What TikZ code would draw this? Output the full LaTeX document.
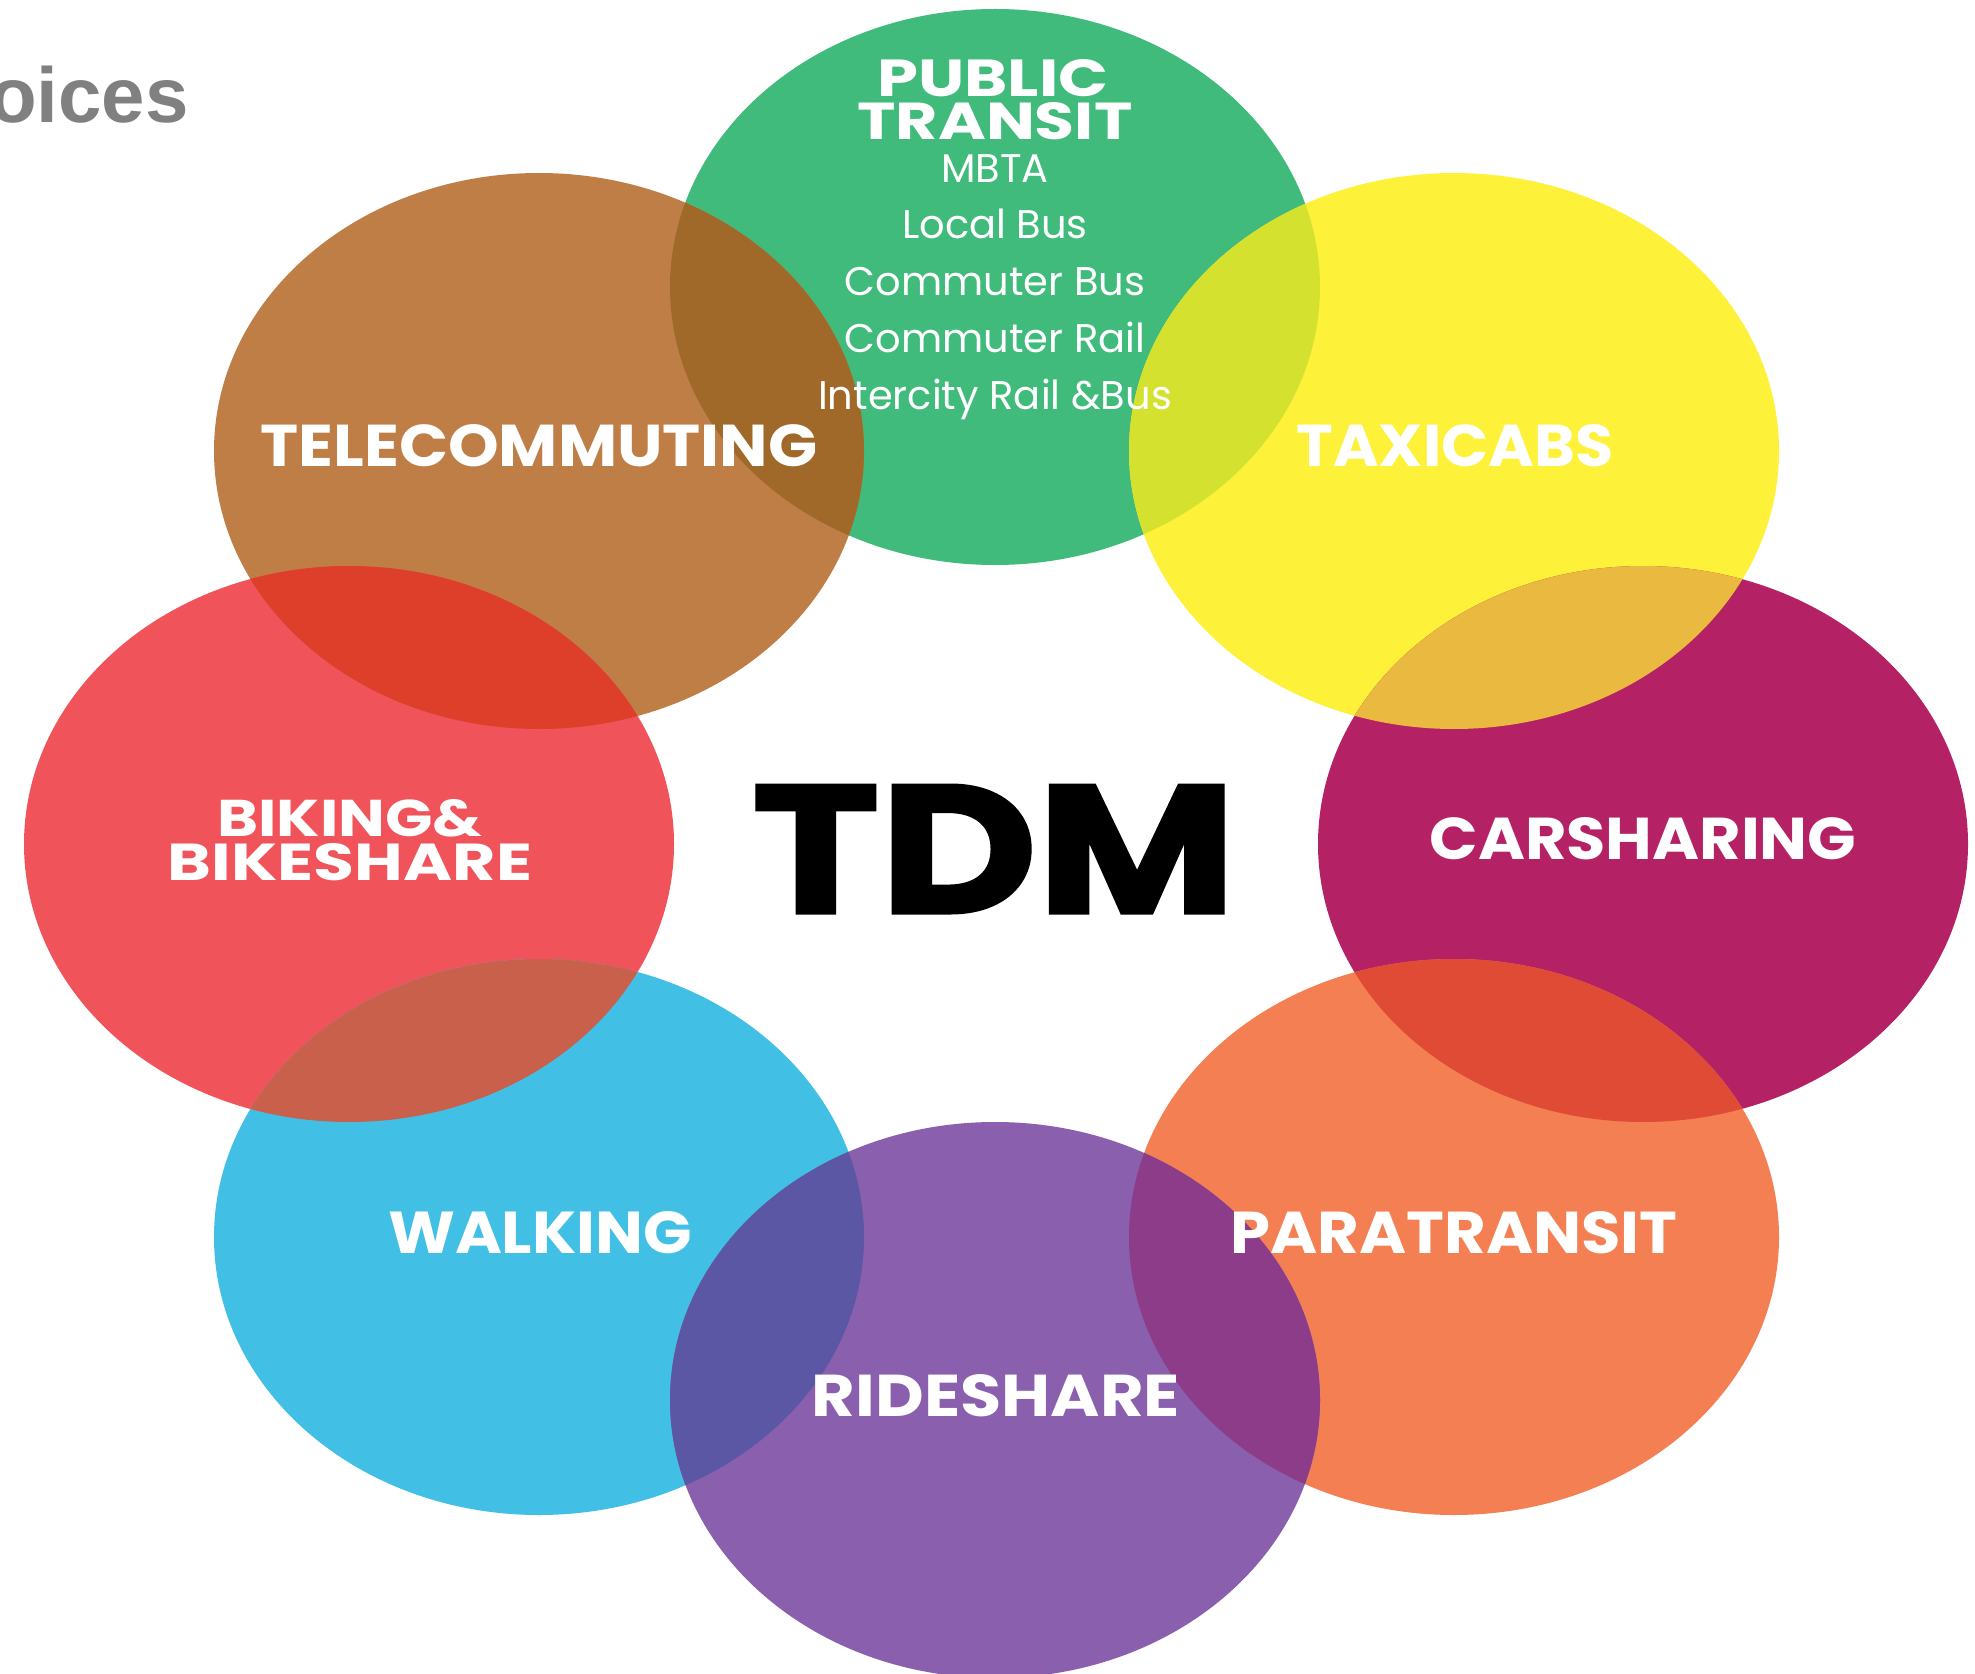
\documentclass[tikz,border=0pt]{standalone}
\usepackage{fontspec}
\setmainfont{Poppins}
\newfontfamily\arialfont{Liberation Sans}
\newfontfamily\heavyfont{Poppins}[BoldFeatures={FakeBold=1.6}]
\usepackage{graphicx}
\definecolor{cgreen}{RGB}{64,187,123}
\definecolor{cbrown}{RGB}{190,126,70}
\definecolor{cyellow}{RGB}{254,241,58}
\definecolor{cred}{RGB}{240,83,90}
\definecolor{cmag}{RGB}{181,33,101}
\definecolor{ccyan}{RGB}{65,191,229}
\definecolor{corange}{RGB}{244,127,82}
\definecolor{cpurple}{RGB}{138,95,174}
\definecolor{ogb}{RGB}{160,105,42}
\definecolor{ogy}{RGB}{213,225,47}
\definecolor{obr}{RGB}{221,63,43}
\definecolor{oym}{RGB}{234,185,63}
\definecolor{orc}{RGB}{201,96,75}
\definecolor{omo}{RGB}{224,75,54}
\definecolor{ocp}{RGB}{91,87,165}
\definecolor{oop}{RGB}{140,60,136}
\definecolor{titlegray}{RGB}{128,128,128}
\newcommand\blob[2]{\fill[#1] (#2) ellipse [x radius=162.5pt, y radius=139pt];}
\newcommand\lens[3]{\begin{scope}\clip (#1) ellipse [x radius=162.5pt, y radius=139pt];\fill[#3] (#2) ellipse [x radius=162.5pt, y radius=139pt];\end{scope}}
\newcommand\fitlbl[3]{\resizebox{#1}{#2}{\bfseries #3}}
\tikzset{
  lbl/.style={inner sep=0pt, text=white},
  item/.style={inner sep=0pt, anchor=base, text=white, font=\fontsize{20pt}{24pt}\selectfont},
}
\begin{document}
\begin{tikzpicture}[x=0.5pt,y=-0.5pt]
\useasboundingbox (0,0) rectangle (1975,1674);
\fill[white] (0,0) rectangle (1975,1674);
\coordinate (cG) at (995,287);
\coordinate (cBr) at (539,451);
\coordinate (cY) at (1454,451);
\coordinate (cR) at (349,844);
\coordinate (cM) at (1643,844);
\coordinate (cC) at (539,1237);
\coordinate (cO) at (1454,1237);
\coordinate (cP) at (995,1400);
\blob{cgreen}{cG}
\blob{cbrown}{cBr}
\blob{cyellow}{cY}
\blob{cred}{cR}
\blob{cmag}{cM}
\blob{ccyan}{cC}
\blob{corange}{cO}
\blob{cpurple}{cP}
\lens{cG}{cBr}{ogb}
\lens{cG}{cY}{ogy}
\lens{cBr}{cR}{obr}
\lens{cY}{cM}{oym}
\lens{cR}{cC}{orc}
\lens{cM}{cO}{omo}
\lens{cC}{cP}{ocp}
\lens{cO}{cP}{oop}
% title fragment
\node[inner sep=0pt, anchor=base east, text=titlegray] (ttl) at (189,123)
  {\arialfont\bfseries\fontsize{39pt}{44pt}\selectfont oices};
% public transit
\node[lbl] (pub) at (993,78) {\fitlbl{115.5pt}{18.5pt}{PUBLIC}};
\node[lbl] (tra) at (995,121) {\fitlbl{137.5pt}{18.5pt}{TRANSIT}};
\node[item] (mbta) at (995,183) {MBTA};
\node[item] (lbus) at (995,239) {Local Bus};
\node[item] (cbus) at (995,296) {Commuter Bus};
\node[item] (crail) at (995,353) {Commuter Rail};
\node[item] (irail) at (995,409) {Intercity Rail \&Bus};
% labels
\node[lbl] (tele) at (539,446) {\fitlbl{278.5pt}{21pt}{TELECOMMUTING}};
\node[lbl] (taxi) at (1455,446) {\fitlbl{158.5pt}{21pt}{TAXICABS}};
\node[lbl] (bik1) at (350,818) {\fitlbl{132.5pt}{18.5pt}{BIKING\&}};
\node[lbl] (bik2) at (350,862) {\fitlbl{182pt}{18.5pt}{BIKESHARE}};
\node[lbl] (car) at (1643,839) {\fitlbl{213.5pt}{21pt}{CARSHARING}};
\node[lbl] (walk) at (540,1233) {\fitlbl{152pt}{21pt}{WALKING}};
\node[lbl] (para) at (1454,1233) {\fitlbl{223.5pt}{21pt}{PARATRANSIT}};
\node[lbl] (ride) at (996,1396) {\fitlbl{184pt}{21pt}{RIDESHARE}};
\node[inner sep=0pt, text=black] (tdm) at (994,849) {\resizebox{242pt}{64pt}{\heavyfont\bfseries TDM}};
\end{tikzpicture}
\end{document}
